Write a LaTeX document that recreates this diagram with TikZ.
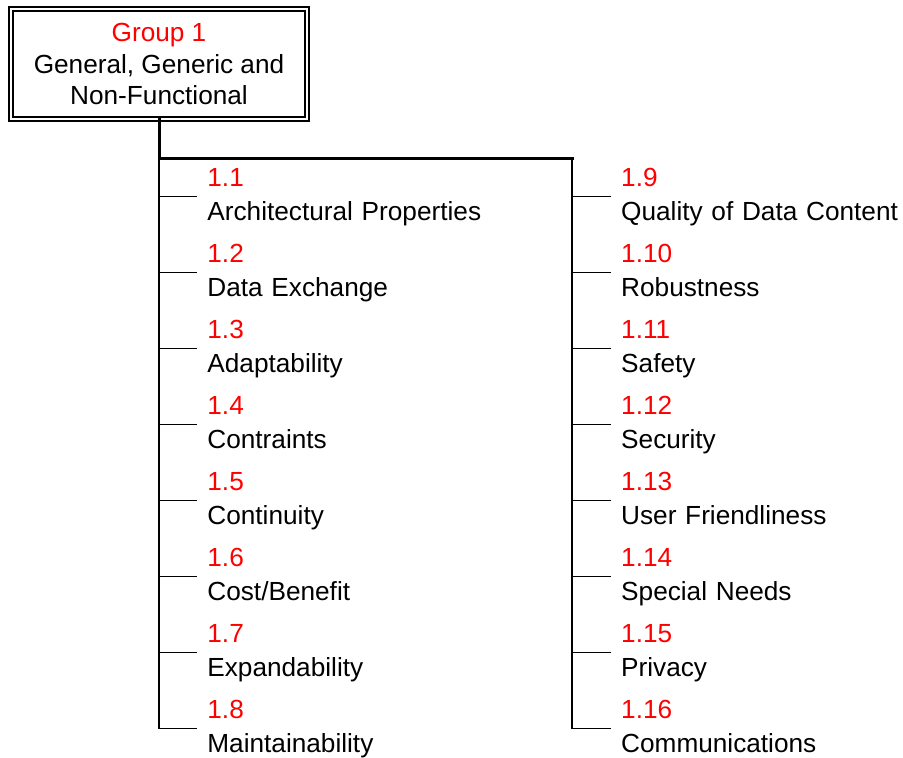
\documentclass[tikz,border=0pt]{standalone}
\usepackage{fontspec}
\setmainfont{Liberation Sans}
\usetikzlibrary{positioning}
\newcommand{\qnum}[1]{\textcolor{red}{#1}}

\begin{document}
\begin{tikzpicture}[x=0.5pt,y=-0.5pt,node distance=38pt]
  \tikzstyle{group}=[rectangle,draw=black,double,double distance=1.2pt,line width=0.8pt,
  			  minimum width=148.25pt,minimum height=55pt,align=center,inner sep=0pt,
  			  font=\fontsize{13.1pt}{15.85pt}\selectfont]
  \tikzstyle{item}=[rectangle,text width=150pt,align=left,inner xsep=5pt,inner ysep=0pt,
  			  font=\fontsize{13.1pt}{17pt}\selectfont]
  \tikzstyle{trunk}=[line width=1.5pt,line cap=rect]
  \tikzstyle{column}=[line width=1.3pt]
  \tikzstyle{tick}=[line width=0.7pt]

  \useasboundingbox (0,0) rectangle (903,757);

 \begin{scope}
    % Group box.
    \node [group] (g1) at (159,64) {\qnum{Group 1}\\General, Generic and\\Non-Functional};
    \coordinate (ltop) at (159,158);
    \coordinate (rtop) at (572,158);

    % First column.
    \node [item,anchor=west] (i1) at (197,196.5) {\strut\qnum{1.1}\\Architectural Properties\strut};
    \node [item] (i2) [below of=i1] {\strut\qnum{1.2}\\Data Exchange\strut};
    \node [item] (i3) [below of=i2] {\strut\qnum{1.3}\\Adaptability\strut};
    \node [item] (i4) [below of=i3] {\strut\qnum{1.4}\\Contraints\strut};
    \node [item] (i5) [below of=i4] {\strut\qnum{1.5}\\Continuity\strut};
    \node [item] (i6) [below of=i5] {\strut\qnum{1.6}\\Cost/Benefit\strut};
    \node [item] (i7) [below of=i6] {\strut\qnum{1.7}\\Expandability\strut};
    \node [item] (i8) [below of=i7] {\strut\qnum{1.8}\\Maintainability\strut};

    % Second column.
    \node [item] (i9) [right=46.5pt of i1] {\strut\qnum{1.9}\\Quality of Data Content\strut};
    \node [item] (i10) [below of=i9] {\strut\qnum{1.10}\\Robustness\strut};
    \node [item] (i11) [below of=i10] {\strut\qnum{1.11}\\Safety\strut};
    \node [item] (i12) [below of=i11] {\strut\qnum{1.12}\\Security\strut};
    \node [item] (i13) [below of=i12] {\strut\qnum{1.13}\\User Friendliness\strut};
    \node [item] (i14) [below of=i13] {\strut\qnum{1.14}\\Special Needs\strut};
    \node [item] (i15) [below of=i14] {\strut\qnum{1.15}\\Privacy\strut};
    \node [item] (i16) [below of=i15] {\strut\qnum{1.16}\\Communications\strut};

    % Trunk and columns.
    \path (g1.south) edge [trunk] (ltop);
    \path (ltop) edge [trunk] (rtop);
    \path (ltop) edge [column] (ltop |- i8.west);
    \path (rtop) edge [column] (rtop |- i16.west);

    % Ticks.
    \path (ltop |- i1.west) edge [tick] (i1.west);
    \path (ltop |- i2.west) edge [tick] (i2.west);
    \path (ltop |- i3.west) edge [tick] (i3.west);
    \path (ltop |- i4.west) edge [tick] (i4.west);
    \path (ltop |- i5.west) edge [tick] (i5.west);
    \path (ltop |- i6.west) edge [tick] (i6.west);
    \path (ltop |- i7.west) edge [tick] (i7.west);
    \path (ltop |- i8.west) edge [tick] (i8.west);
    \path (rtop |- i9.west) edge [tick] (i9.west);
    \path (rtop |- i10.west) edge [tick] (i10.west);
    \path (rtop |- i11.west) edge [tick] (i11.west);
    \path (rtop |- i12.west) edge [tick] (i12.west);
    \path (rtop |- i13.west) edge [tick] (i13.west);
    \path (rtop |- i14.west) edge [tick] (i14.west);
    \path (rtop |- i15.west) edge [tick] (i15.west);
    \path (rtop |- i16.west) edge [tick] (i16.west);
  \end{scope}
\end{tikzpicture}
\end{document}
